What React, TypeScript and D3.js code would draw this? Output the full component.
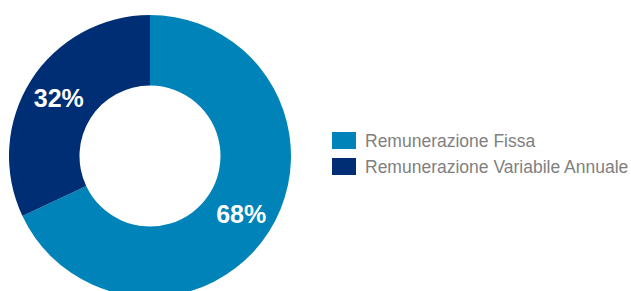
import React from 'react';
import * as d3 from 'd3';

const categories = ['Remunerazione Fissa', 'Remunerazione Variabile Annuale'];
const values = [68, 32];
const labels = ['68%', '32%'];
const colors = ['#0083B9', '#002E74'];

const W = 631;
const H = 291;

export default function App() {
  const cx = 150;
  const cy = 156;
  const outerR = 141;
  const innerR = 70.5;

  const pie = d3.pie<number>().sort(null).value((d) => d);
  const arcs = pie(values);
  const arc = d3.arc<d3.PieArcDatum<number>>().innerRadius(innerR).outerRadius(outerR);
  const labelArc = d3.arc<d3.PieArcDatum<number>>().innerRadius(108).outerRadius(108);

  return (
    <svg width={W} height={H} style={{ position: 'absolute', left: 0, top: 0 }}>
      <rect width={W} height={H} fill="#fff" />
      <g transform={`translate(${cx},${cy})`}>
        {arcs.map((a, i) => (
          <path key={i} d={arc(a) || ''} fill={colors[i]} />
        ))}
        {arcs.map((a, i) => {
          const [x, y] = labelArc.centroid(a);
          return (
            <text
              key={i}
              x={x}
              y={y}
              textAnchor="middle"
              dominantBaseline="central"
              fill="#fff"
              fontFamily="Liberation Sans, Arial, sans-serif"
              fontWeight="bold"
              fontSize={25}
            >
              {labels[i]}
            </text>
          );
        })}
      </g>
      <g transform="translate(332,132)">
        {categories.map((c, i) => (
          <g key={c} transform={`translate(0,${i * 26})`}>
            <rect width={24} height={17} fill={colors[i]} />
            <text
              x={33}
              y={9}
              dominantBaseline="central"
              fill="#7F7F7F"
              fontFamily="Liberation Sans, Arial, sans-serif"
              fontSize={17.5}
            >
              {c}
            </text>
          </g>
        ))}
      </g>
    </svg>
  );
}
